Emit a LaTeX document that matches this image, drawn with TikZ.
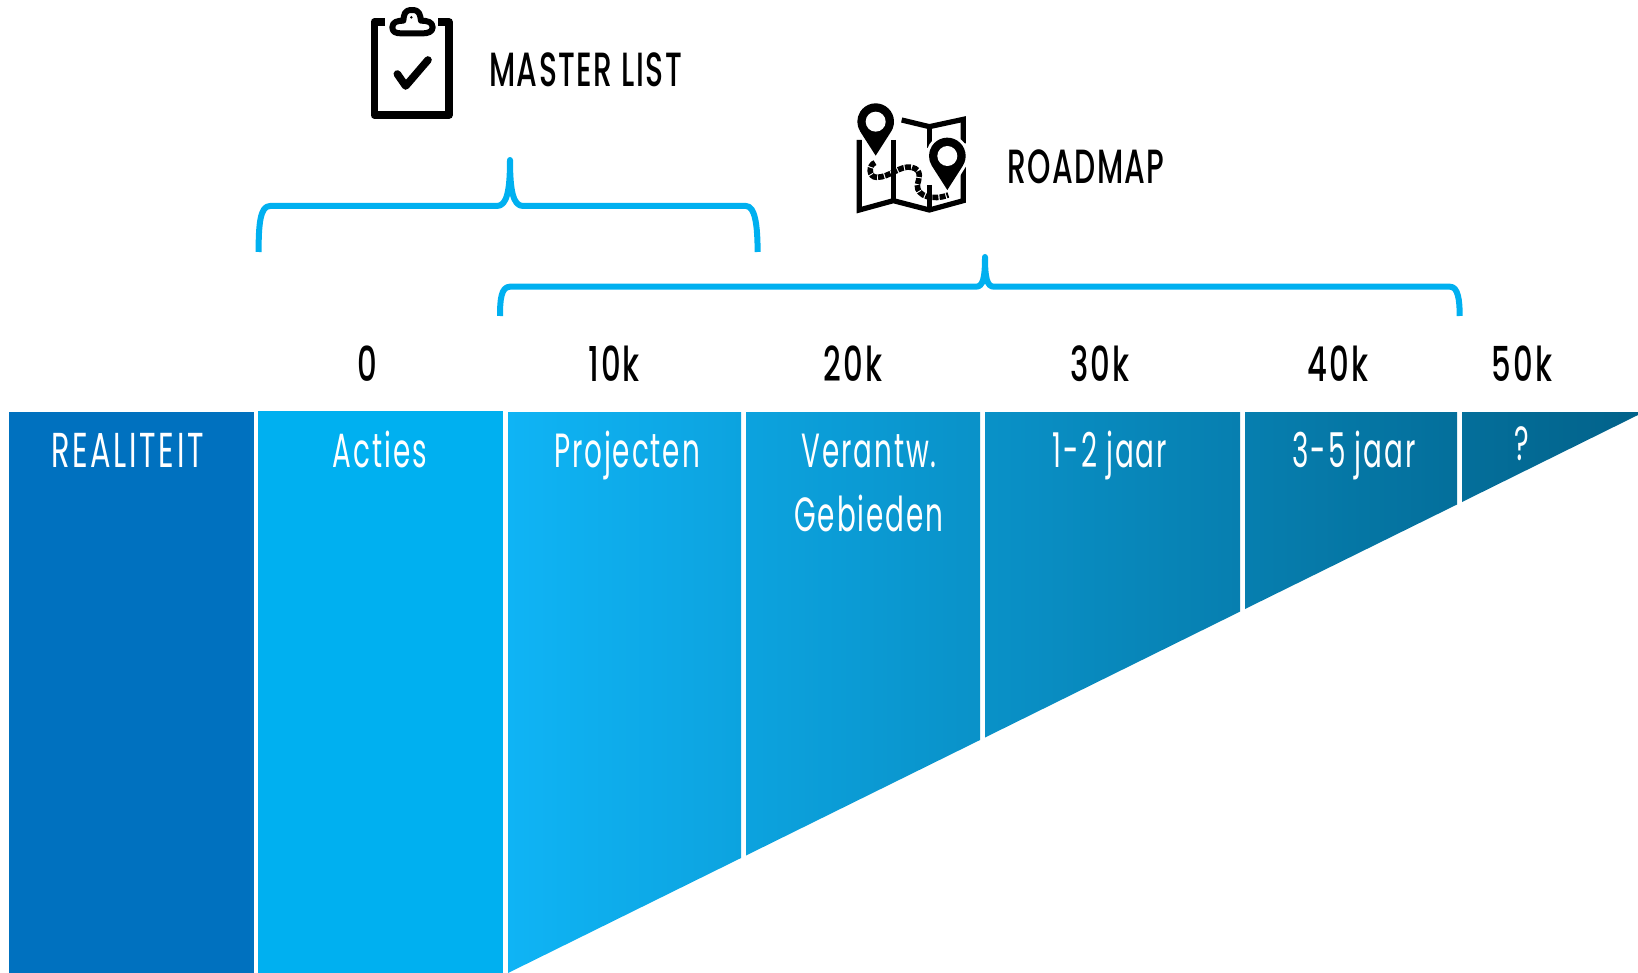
\documentclass[tikz,border=0pt]{standalone}
\usepackage{fontspec}
\newfontfamily\futb[FakeStretch=0.62,LetterSpace=3]{Poppins Medium}
\newfontfamily\futn[FakeStretch=0.64,LetterSpace=4]{Poppins Medium}
\newfontfamily\futw[FakeStretch=0.58,LetterSpace=4]{Poppins}
\newfontfamily\futc[FakeStretch=0.62,LetterSpace=5.5]{Poppins}
\definecolor{realblue}{HTML}{0071BF}
\definecolor{actblue}{HTML}{00B0F0}
\definecolor{gradL}{HTML}{0FB4F5}
\definecolor{gradR}{HTML}{02628A}
\tikzset{
  headlabel/.style={font=\futb\fontsize{24}{24}\selectfont,text=black,anchor=base,inner sep=0pt},
  numlabel/.style={font=\futn\fontsize{24}{24}\selectfont,text=black,anchor=base,inner sep=0pt},
  collabel/.style={font=\futw\fontsize{24}{24}\selectfont,text=white,anchor=base,inner sep=0pt},
  caplabel/.style={font=\futc\fontsize{24.5}{24.5}\selectfont,text=white,anchor=base,inner sep=0pt},
  bracestroke/.style={draw=actblue,line width=3pt,line join=round},
  iconline/.style={draw=black,line width=3.8pt,line join=round},
  mapline/.style={draw=black,line width=2.6pt,line join=miter},
}
\begin{document}
\begin{tikzpicture}[x=0.5pt,y=-0.5pt]
\useasboundingbox (0,0) rectangle (1638,973);
% solid columns
\fill[realblue] (9,412) rectangle (254,973);
\fill[actblue] (258,411) rectangle (503,973);
% gradient columns
\begin{scope}
\clip (508,412) -- (741,412) -- (741,858) -- (508,973) -- cycle
      (746,412) -- (980,412) -- (980,740) -- (746,855.5) -- cycle
      (985,412) -- (1240,412) -- (1240,611.6) -- (985,737.5) -- cycle
      (1245,412) -- (1457,412) -- (1457,504.5) -- (1245,609) -- cycle
      (1462,412) -- (1638,412) -- (1638,415) -- (1462,502) -- cycle;
\shade[left color=gradL,right color=gradR] (508,411) rectangle (1638,973);
\end{scope}
% braces
\draw[bracestroke] (258.6,252) .. controls (258.6,225) and (260,206) .. (270,206)
  -- (497,206) .. controls (507,206) and (510,190) .. (510,160)
  .. controls (510,190) and (513,206) .. (523,206)
  -- (746,206) .. controls (755,206) and (757.6,225) .. (757.6,252);
\draw[bracestroke] (500,316) .. controls (500,300) and (501,286.7) .. (510,286.7)
  -- (976,286.7) .. controls (983,286.7) and (985,278) .. (985,257)
  .. controls (985,278) and (987,286.7) .. (994,286.7)
  -- (1450,286.7) .. controls (1458,286.7) and (1459.7,300) .. (1459.7,316);
% clipboard icon
\begin{scope}[shift={(340,0)},scale=1/3]
\draw[iconline] (135,66) -- (103,66) -- (103,345) -- (327,345) -- (327,66) -- (295,66);
\draw[draw=black,line width=3pt,line join=round] (157,82) .. controls (157,66) and (172,62) .. (190,62)
  .. controls (192,45) and (192,30) .. (216,30) .. controls (240,30) and (240,45) .. (243,62)
  .. controls (262,62) and (278,66) .. (278,82) .. controls (278,96) and (262,100) .. (250,100)
  -- (182,100) .. controls (168,100) and (157,96) .. (157,82) -- cycle;
\fill[black] (214,52) circle (4);
\draw[draw=black,line width=3.8pt,line cap=round,line join=round] (172,222) -- (197,258) -- (264,180);
\end{scope}
% map icon
\begin{scope}[shift={(840,90)},scale=1/3]
\draw[mapline] (58,150) -- (58,360) -- (160,332) -- (268,360) -- (370,332) -- (370,230);
\draw[mapline] (185,90) -- (268,110) -- (370,88) -- (370,160);
\draw[mapline] (160,150) -- (160,332);
\draw[mapline] (268,110) -- (268,175);
\draw[mapline] (268,285) -- (268,360);
\foreach \cx/\cy in {107/95,322/198}{
  \path[draw=white,line width=3pt] (\cx+46.3,\cy+29.6)
    arc[start angle=32.6,end angle=-212.6,radius=55] -- (\cx,\cy+102) -- cycle;
  \path[fill=black] (\cx+46.3,\cy+29.6)
    arc[start angle=32.6,end angle=-212.6,radius=55] -- (\cx,\cy+102) -- cycle;
  \fill[white] (\cx,\cy) circle (30);
}
\draw[draw=black,line width=2.8pt,line cap=butt,dash pattern=on 3pt off 0.6pt]
  (105,218) .. controls (85,225) and (85,262) .. (110,262)
  .. controls (150,262) and (180,225) .. (215,232)
  .. controls (250,240) and (235,270) .. (232,285)
  .. controls (230,320) and (280,332) .. (325,315);
\end{scope}
% texts
\node[headlabel] (masterlist) at (585.5,87) {MASTER LIST};
\node[headlabel] (roadmap) at (1086,183.5) {ROADMAP};
\node[numlabel] (n0) at (367,381) {0};
\node[numlabel] (n10) at (614,381) {10k};
\node[numlabel] (n20) at (853,381) {20k};
\node[numlabel] (n30) at (1100,381) {30k};
\node[numlabel] (n40) at (1338,381) {40k};
\node[numlabel] (n50) at (1522,381) {50k};
\node[caplabel] (realiteit) at (127.5,467.5) {REALITEIT};
\node[collabel] (acties) at (380,467.5) {Acties};
\node[collabel] (projecten) at (627,467.5) {Projecten};
\node[collabel] (verantw) at (869,467.5) {Verantw.};
\node[collabel] (gebieden) at (869,531) {Gebieden};
\node[collabel] (jaar12) at (1110,467.5) {1-2 jaar};
\node[collabel] (jaar35) at (1354,467.5) {3-5 jaar};
\node[collabel] (vraag) at (1522,460) {?};
\end{tikzpicture}
\end{document}
